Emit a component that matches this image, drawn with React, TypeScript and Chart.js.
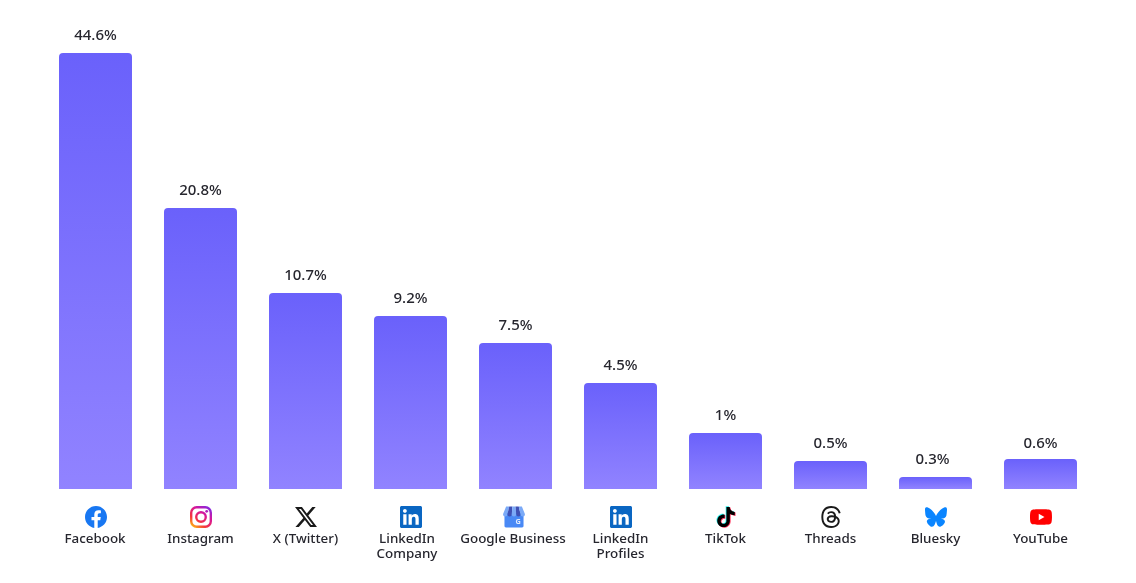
import { useEffect, useRef } from 'react';
import Chart from 'chart.js/auto';

const platforms = ['Facebook', 'Instagram', 'X (Twitter)', 'LinkedIn Company', 'Google Business', 'LinkedIn Profiles', 'TikTok', 'Threads', 'Bluesky', 'YouTube'];
const tickLabels = [['Facebook'], ['Instagram'], ['X (Twitter)'], ['LinkedIn', 'Company'], ['Google Business'], ['LinkedIn', 'Profiles'], ['TikTok'], ['Threads'], ['Bluesky'], ['YouTube']];
const shareLabels = ['44.6%', '20.8%', '10.7%', '9.2%', '7.5%', '4.5%', '1%', '0.5%', '0.3%', '0.6%'];
// the bars are not proportional to the printed shares, so their drawn level is kept apart
const barLevels = [436, 281, 196, 173, 146, 106, 56, 28, 12, 30];
const axisMax = 489;

const FONT = '"Noto Sans", sans-serif';
const TEXT_COLOR = '#26262e';

const FACEBOOK = 'M24 12.073c0-6.627-5.373-12-12-12s-12 5.373-12 12c0 5.99 4.388 10.954 10.125 11.854v-8.385H7.078v-3.47h3.047V9.43c0-3.007 1.792-4.669 4.533-4.669 1.312 0 2.686.235 2.686.235v2.953H15.83c-1.491 0-1.956.925-1.956 1.874v2.25h3.328l-.532 3.47h-2.796v8.385C19.612 23.027 24 18.062 24 12.073z';
const X_LOGO = 'M18.901 1.153h3.68l-8.04 9.19L24 22.846h-7.406l-5.8-7.584-6.638 7.584H.474l8.6-9.83L0 1.154h7.594l5.243 6.932ZM17.61 20.644h2.039L6.486 3.24H4.298Z';
const LINKEDIN = 'M20.447 20.452h-3.554v-5.569c0-1.328-.027-3.037-1.852-3.037-1.853 0-2.136 1.445-2.136 2.939v5.667H9.351V9h3.414v1.561h.046c.477-.9 1.637-1.85 3.37-1.85 3.601 0 4.267 2.37 4.267 5.455v6.286zM5.337 7.433c-1.144 0-2.063-.926-2.063-2.065 0-1.138.92-2.063 2.063-2.063 1.14 0 2.064.925 2.064 2.063 0 1.139-.925 2.065-2.064 2.065zm1.782 13.019H3.555V9h3.564v11.452zM22.225 0H1.771C.792 0 0 .774 0 1.729v20.542C0 23.227.792 24 1.771 24h20.451C23.2 24 24 23.227 24 22.271V1.729C24 .774 23.2 0 22.222 0h.003z';
const TIKTOK = 'M12.525.02c1.31-.02 2.61-.01 3.91-.02.08 1.53.63 3.09 1.75 4.17 1.12 1.11 2.7 1.62 4.24 1.79v4.03c-1.44-.05-2.89-.35-4.2-.97-.57-.26-1.1-.59-1.62-.93-.01 2.92.01 5.84-.02 8.75-.08 1.4-.54 2.79-1.35 3.94-1.31 1.92-3.58 3.17-5.91 3.21-1.43.08-2.86-.31-4.08-1.03-2.02-1.19-3.44-3.37-3.65-5.71-.02-.5-.03-1-.01-1.49.18-1.9 1.12-3.72 2.58-4.96 1.66-1.44 3.98-2.13 6.15-1.72.02 1.48-.04 2.96-.04 4.44-.99-.32-2.15-.23-3.02.37-.63.41-1.11 1.04-1.36 1.75-.21.51-.15 1.07-.14 1.61.24 1.64 1.82 3.02 3.5 2.87 1.12-.01 2.19-.66 2.77-1.61.19-.33.4-.67.41-1.06.1-1.79.06-3.57.07-5.36.01-4.03-.01-8.05.02-12.07z';
const THREADS = 'M12.186 24h-.007c-3.581-.024-6.334-1.205-8.184-3.509C2.35 18.44 1.5 15.586 1.472 12.01v-.017c.03-3.579.879-6.43 2.525-8.482C5.845 1.205 8.6.024 12.18 0h.014c2.746.02 5.043.725 6.826 2.098 1.677 1.29 2.858 3.13 3.509 5.467l-2.04.569c-1.104-3.96-3.898-5.984-8.304-6.015-2.91.022-5.11.936-6.54 2.717C4.307 6.504 3.616 8.914 3.589 12c.027 3.086.718 5.496 2.057 7.164 1.43 1.783 3.631 2.698 6.54 2.717 2.623-.02 4.358-.631 5.8-2.045 1.647-1.613 1.618-3.593 1.09-4.798-.31-.71-.873-1.3-1.634-1.75-.192 1.352-.622 2.446-1.284 3.272-.886 1.102-2.14 1.704-3.73 1.79-1.202.065-2.361-.218-3.259-.801-1.063-.689-1.685-1.74-1.752-2.964-.065-1.19.408-2.285 1.33-3.082.88-.76 2.119-1.207 3.583-1.291a13.853 13.853 0 0 1 3.02.142c-.126-.742-.375-1.332-.75-1.757-.513-.586-1.308-.883-2.359-.89h-.029c-.844 0-1.992.232-2.721 1.32L7.734 7.847c.98-1.454 2.568-2.256 4.478-2.256h.044c3.194.02 5.097 1.975 5.287 5.388.108.046.216.094.321.142 1.49.7 2.58 1.761 3.154 3.07.797 1.82.871 4.79-1.548 7.158-1.85 1.81-4.094 2.628-7.277 2.65Zm1.003-11.69c-.242 0-.487.007-.739.021-1.836.103-2.98.946-2.916 2.143.067 1.256 1.452 1.839 2.784 1.767 1.224-.065 2.818-.543 3.086-3.71a10.5 10.5 0 0 0-2.215-.221z';
const BLUESKY = 'M12 10.8c-1.087-2.114-4.046-6.053-6.798-7.995C2.566.944 1.561 1.266.902 1.565.139 1.908 0 3.08 0 3.768c0 .69.378 5.65.624 6.479.815 2.736 3.713 3.66 6.383 3.364.136-.02.275-.039.415-.056-.138.022-.276.04-.415.056-3.912.58-7.387 2.005-2.83 7.078 5.013 5.19 6.87-1.113 7.823-4.308.953 3.195 2.05 9.271 7.733 4.308 4.267-4.308 1.172-6.498-2.74-7.078a8.741 8.741 0 0 1-.415-.056c.14.017.279.036.415.056 2.67.297 5.568-.628 6.383-3.364.246-.828.624-5.79.624-6.479 0-.688-.139-1.86-.902-2.203-.659-.299-1.664-.621-4.3 1.24C16.046 4.748 13.087 8.687 12 10.8Z';
const YOUTUBE = 'M23.498 6.186a3.016 3.016 0 0 0-2.122-2.136C19.505 3.545 12 3.545 12 3.545s-7.505 0-9.377.505A3.017 3.017 0 0 0 .502 6.186C0 8.07 0 12 0 12s0 3.93.502 5.814a3.016 3.016 0 0 0 2.122 2.136c1.871.505 9.376.505 9.376.505s7.505 0 9.377-.505a3.015 3.015 0 0 0 2.122-2.136C24 15.93 24 12 24 12s0-3.93-.502-5.814zM9.545 15.568V8.432L15.818 12l-6.273 3.568z';

// every icon draws in a 24x24 box
function fillPath(ctx: CanvasRenderingContext2D, d: string, color: string) {
  ctx.fillStyle = color;
  ctx.fill(new Path2D(d));
}

function drawInstagram(ctx: CanvasRenderingContext2D) {
  const g = ctx.createLinearGradient(3, 24, 21, 0);
  g.addColorStop(0, '#fdc20f');
  g.addColorStop(0.3, '#f5353d');
  g.addColorStop(0.65, '#d6169a');
  g.addColorStop(1, '#7a2bea');
  ctx.strokeStyle = g;
  ctx.fillStyle = g;
  ctx.lineWidth = 2.6;
  ctx.beginPath();
  ctx.roundRect(1.3, 1.3, 21.4, 21.4, 6);
  ctx.stroke();
  ctx.beginPath();
  ctx.arc(12, 12, 5.2, 0, Math.PI * 2);
  ctx.stroke();
  ctx.beginPath();
  ctx.arc(18.2, 5.8, 1.5, 0, Math.PI * 2);
  ctx.fill();
}

function drawGoogleBusiness(ctx: CanvasRenderingContext2D) {
  ctx.fillStyle = '#4989f5';
  ctx.beginPath();
  ctx.roundRect(1.6, 7, 20.8, 16.5, 1.6);
  ctx.fill();
  // awning: five stripes, narrower at the top
  const stripes = ['#7baaf7', '#3f51b5', '#7baaf7', '#3f51b5', '#7baaf7'];
  stripes.forEach((c, i) => {
    const top = 3.4 + i * 3.44;
    const bottom = i * 4.8;
    ctx.fillStyle = c;
    ctx.beginPath();
    ctx.moveTo(top, 0.5);
    ctx.lineTo(top + 3.44, 0.5);
    ctx.lineTo(bottom + 4.8, 9);
    ctx.arc(bottom + 2.4, 9, 2.4, 0, Math.PI);
    ctx.closePath();
    ctx.fill();
  });
  ctx.fillStyle = '#e3ecfd';
  ctx.font = `700 8px ${FONT}`;
  ctx.textAlign = 'center';
  ctx.textBaseline = 'middle';
  ctx.fillText('G', 16.5, 17.5);
}

function drawTikTok(ctx: CanvasRenderingContext2D) {
  ctx.translate(1, 1);
  ctx.scale(22 / 24, 22 / 24);
  ctx.save();
  ctx.translate(-0.9, -0.7);
  fillPath(ctx, TIKTOK, '#25f4ee');
  ctx.restore();
  ctx.save();
  ctx.translate(0.9, 0.7);
  fillPath(ctx, TIKTOK, '#fe2c55');
  ctx.restore();
  fillPath(ctx, TIKTOK, '#000000');
}

const iconDrawers: Record<string, (ctx: CanvasRenderingContext2D) => void> = {
  Facebook: (ctx) => {
    ctx.fillStyle = '#ffffff';
    ctx.beginPath();
    ctx.arc(12, 12, 10, 0, Math.PI * 2);
    ctx.fill();
    fillPath(ctx, FACEBOOK, '#1877f2');
  },
  Instagram: drawInstagram,
  'X (Twitter)': (ctx) => fillPath(ctx, X_LOGO, '#1a1a1a'),
  'LinkedIn Company': (ctx) => fillPath(ctx, LINKEDIN, '#0a66c2'),
  'Google Business': drawGoogleBusiness,
  'LinkedIn Profiles': (ctx) => fillPath(ctx, LINKEDIN, '#0a66c2'),
  TikTok: drawTikTok,
  Threads: (ctx) => fillPath(ctx, THREADS, '#1a1a1a'),
  Bluesky: (ctx) => fillPath(ctx, BLUESKY, '#0a85ff'),
  YouTube: (ctx) => fillPath(ctx, YOUTUBE, '#ff0000'),
};

// a few share labels sit off the usual spot above their bar in the reference
const shareNudgeX = [0, 0, 0, 0, 0, 0, 0, 0, -3, 0];
const shareNudgeY = [0, 0, 0, 0, 0, 0, 0, 0, 0, 2];

const shareLabelPlugin = {
  id: 'shareLabels',
  afterDatasetsDraw(chart: any) {
    const { ctx } = chart;
    ctx.save();
    ctx.font = `500 15px ${FONT}`;
    ctx.fillStyle = TEXT_COLOR;
    ctx.textAlign = 'center';
    ctx.textBaseline = 'middle';
    chart.getDatasetMeta(0).data.forEach((bar: any, i: number) => {
      ctx.fillText(shareLabels[i], bar.x + shareNudgeX[i], bar.y - 17 + shareNudgeY[i]);
    });
    ctx.restore();
  },
};

// two captions sit a little left of their bar in the reference, so the axis
// text is drawn here instead of by the ticks
const textNudge = [-0.5, 0, 0, -3.5, -2.5, 0, 0, 0, 0, 0];
const iconNudge = [0.5, 0.5, 0.5, 0.5, -1.5, 0.5, 0.5, 0.5, 0.5, 0.5];

const platformAxisPlugin = {
  id: 'platformAxis',
  afterDraw(chart: any) {
    const { ctx, scales } = chart;
    const size = 22;
    platforms.forEach((name, i) => {
      const x = scales.x.getPixelForTick(i);
      ctx.save();
      ctx.translate(x + iconNudge[i] - size / 2, scales.x.top + 28 - size / 2);
      ctx.scale(size / 24, size / 24);
      iconDrawers[name](ctx);
      ctx.restore();

      ctx.save();
      ctx.font = `500 13.4px ${FONT}`;
      ctx.fillStyle = TEXT_COLOR;
      ctx.textAlign = 'center';
      ctx.textBaseline = 'middle';
      tickLabels[i].forEach((line, j) => {
        ctx.fillText(line, x + textNudge[i], scales.x.top + 50 + j * 15);
      });
      ctx.restore();
    });
  },
};

function barGradient(context: any) {
  const { chart, parsed } = context;
  if (!parsed || !chart.chartArea) return '#6a62ff';
  const y = chart.scales.y;
  const g = chart.ctx.createLinearGradient(0, y.getPixelForValue(parsed.y), 0, y.getPixelForValue(0));
  g.addColorStop(0, '#6a61fb');
  g.addColorStop(1, '#9183ff');
  return g;
}

export default function App() {
  const canvasRef = useRef<HTMLCanvasElement>(null);

  useEffect(() => {
    if (!canvasRef.current) return;
    const chart = new Chart(canvasRef.current, {
      type: 'bar',
      data: {
        labels: platforms,
        datasets: [{
          data: barLevels,
          backgroundColor: barGradient,
          borderRadius: { topLeft: 4, topRight: 4, bottomLeft: 0, bottomRight: 0 },
          barPercentage: 73 / 105,
          categoryPercentage: 1,
        }],
      },
      options: {
        responsive: false,
        animation: false,
        layout: { padding: { left: 43, right: 43, top: 0, bottom: 0 } },
        plugins: {
          legend: { display: false },
          tooltip: { enabled: false },
        },
        scales: {
          x: {
            afterFit: (scale: any) => { scale.height = 94; },
            grid: { display: false, drawTicks: false },
            border: { display: false },
            ticks: { display: false, autoSkip: false, maxRotation: 0 },
          },
          y: { display: false, min: 0, max: axisMax },
        },
      },
      plugins: [shareLabelPlugin, platformAxisPlugin],
    });
    return () => chart.destroy();
  }, []);

  return (
    <div style={{ position: 'fixed', left: 0, top: 0, width: 1136, height: 583, background: '#fff' }}>
      <canvas ref={canvasRef} width={1136} height={583} style={{ display: 'block' }} />
    </div>
  );
}
